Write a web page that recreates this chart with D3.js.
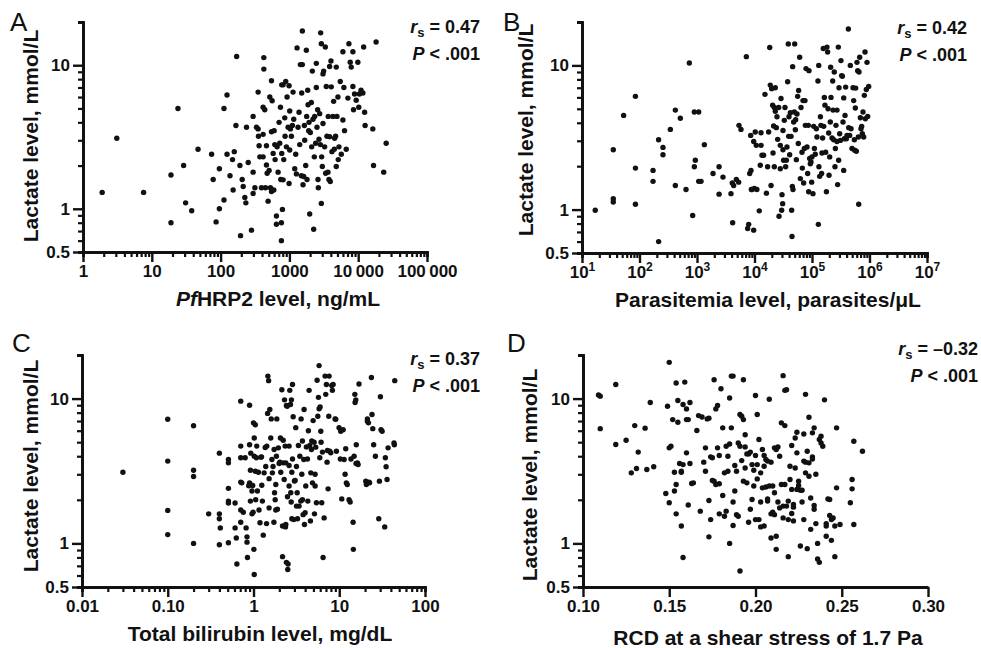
<!DOCTYPE html>
<html>
<head>
<meta charset="utf-8">
<script src="https://cdn.jsdelivr.net/npm/d3@7"></script>
<style>
body { margin: 0; background: #fff; }
svg text { font-family: "Liberation Sans", Arial, Helvetica, sans-serif; fill: #111; }
</style>
</head>
<body>
<svg id="chart" width="981" height="648"></svg>
<script>
// lactate (mmol/L) on every y axis
var lactateDomain = [0.5, 20];
var lactateTicks = [0.5, 1, 10];

var pfhrp2Ticks = [1, 10, 100, 1000, 10000, 100000];
var parasitemiaTicks = [1e1, 1e2, 1e3, 1e4, 1e5, 1e6, 1e7];
var bilirubinTicks = [0.01, 0.1, 1, 10, 100];
var rcdTicks = [0.10, 0.15, 0.20, 0.25, 0.30];

var panelLetters = ['A', 'B', 'C', 'D'];
var rsValues = ['0.47', '0.42', '0.37', '\u20130.32'];
var pValues = ['.001', '.001', '.001', '.001'];

// [PfHRP2 ng/mL, lactate]
var pfhrp2Points = [
  [1.9,1.3],[3.1,3.1],[7.6,1.3],[19,1.72],[19,0.8],[24,5.0],[29,2.0],[31,1.1],[38,0.97],[47,2.6],
  [74,2.4],[78,1.6],[86,0.81],[96,1.0],[96,1.9],[112,1.15],[112,5.0],[124,6.2],[124,2.4],[137,1.7],
  [149,2.2],[152,1.35],[158,2.5],[167,3.8],[171,11.5],[191,2.0],[195,0.65],[206,1.6],[213,1.43],[225,1.2],
  [233,1.1],[238,3.7],[252,2.1],[281,0.71],[297,4.4],[297,1.8],[297,1.28],[315,1.4],[332,3.7],[351,3.6],
  [351,6.5],[355,3.2],[363,2.75],[372,2.3],[393,1.4],[415,3.3],[415,2.3],[415,5.1],[425,11.3],[425,9.4],
  [439,4.9],[449,1.4],[464,2.75],[464,2.02],[475,1.77],[490,1.13],[507,1.85],[519,6.0],[530,1.4],[549,1.32],
  [549,7.8],[549,3.44],[561,5.65],[580,2.43],[593,1.35],[600,3.5],[613,2.8],[620,2.2],[648,0.89],[648,0.78],
  [663,2.7],[685,1.8],[708,4.0],[724,2.86],[741,5.1],[749,1.6],[765,0.8],[765,0.6],[774,7.3],[774,2.43],
  [792,0.99],[810,7.3],[810,1.59],[828,2.2],[856,4.3],[865,3.2],[885,7.7],[905,2.7],[925,6.0],[957,3.7],
  [989,7.2],[989,1.5],[1011,4.8],[1011,2.57],[1034,3.6],[1069,3.2],[1105,3.8],[1130,6.5],[1156,4.2],[1195,1.9],
  [1236,2.4],[1263,1.75],[1292,13.2],[1336,3.7],[1381,4.7],[1413,2.8],[1444,10.1],[1493,1.7],[1510,6.4],[1543,17.3],
  [1543,10.1],[1578,1.47],[1614,1.68],[1650,3.8],[1669,3.0],[1726,2.0],[1763,12.7],[1783,4.4],[1804,1.6],[1845,6.7],
  [1866,5.3],[1907,3.5],[1928,4.0],[1972,0.92],[2015,3.4],[2084,5.5],[2108,2.7],[2154,9.1],[2203,4.2],[2253,0.72],
  [2303,2.3],[2330,4.4],[2408,2.86],[2462,7.0],[2462,10.3],[2518,3.7],[2575,4.9],[2604,1.6],[2633,1.4],[2692,3.05],
  [2753,4.6],[2815,2.8],[2846,16.8],[2911,14.1],[2911,1.09],[2943,2.3],[3009,1.97],[3077,8.7],[3077,3.93],[3146,9.1],
  [3253,2.7],[3327,13.4],[3364,1.77],[3436,7.1],[3514,3.2],[3633,1.8],[3673,4.4],[3756,1.6],[3843,9.8],[3843,3.18],
  [3928,1.55],[4018,10.7],[4060,7.07],[4153,2.5],[4295,4.4],[4394,5.6],[4490,2.6],[4540,3.1],[4692,3.2],[4799,9.7],
  [4799,1.97],[4909,4.4],[5075,6.0],[5130,2.2],[5250,2.7],[5485,7.7],[5675,2.4],[5995,12.4],[5995,4.15],[6195,7.0],
  [6330,3.5],[6700,2.6],[7080,5.9],[7325,14.1],[7660,10.5],[7920,9.7],[8370,7.1],[8370,12.4],[8550,4.9],[8850,6.3],
  [9350,5.7],[9890,10.5],[10200,5.1],[10400,6.3],[11000,6.7],[11700,6.4],[12000,13.4],[12400,4.7],[12600,3.8],[16300,3.6],
  [16700,2.0],[18200,14.5],[23500,1.8],[25500,2.86]
];

// [parasites/uL, lactate]
var parasitemiaPoints = [
  [17,0.99],[35,2.6],[35,1.19],[35,1.13],[53,4.5],[85,6.1],[85,1.94],[85,1.09],[215,3.05],[215,0.6],
  [172,1.87],[172,1.57],[256,2.7],[256,2.4],[344,3.6],[420,4.9],[420,1.47],[513,4.3],[644,1.38],[736,10.4],
  [841,0.91],[899,4.75],[899,1.98],[935,2.2],[1070,4.75],[1070,1.57],[1175,1.57],[1343,2.82],[1900,1.78],[2420,1.98],
  [2420,1.28],[2830,1.68],[3900,1.29],[4110,1.53],[4170,0.81],[4340,1.47],[4830,1.62],[5300,1.55],[5370,3.84],[5820,3.6],
  [7210,11.5],[7600,0.74],[7920,0.79],[8250,1.78],[8580,3.27],[8690,1.87],[8810,1.38],[9050,1.38],[9680,2.97],[9680,0.72],
  [9940,1.4],[10300,3.45],[10750,2.79],[11000,1.38],[12100,0.98],[12600,2.03],[13000,2.79],[13000,3.41],[13500,2.38],[14400,2.38],
  [15200,6.3],[16100,1.3],[16900,1.98],[17600,3.45],[18400,13.3],[18800,7.3],[19400,1.47],[19900,6.9],[20700,5.3],[21000,2.47],
  [21500,3.8],[22100,1.98],[22100,5.1],[23000,4.8],[23000,7.0],[24000,3.7],[24600,4.4],[25300,3.07],[26300,5.1],[26700,0.9],
  [28100,2.79],[28100,1.92],[28900,5.9],[29700,0.99],[30100,1.27],[30900,1.1],[31300,3.54],[31300,2.6],[32100,2.2],[33000,4.16],
  [33900,5.1],[34800,1.98],[35800,2.2],[36700,2.72],[37700,7.7],[38700,14.1],[39300,3.22],[39800,4.4],[40900,2.4],[42000,4.7],
  [43200,3.22],[44300,0.99],[44900,0.65],[45500,1.45],[46100,9.8],[46700,1.38],[48000,4.05],[49300,4.75],[50000,14.1],[51300,3.58],
  [52000,4.2],[53400,2.22],[54800,4.6],[56300,6.1],[57800,2.87],[58600,6.7],[61000,11.4],[62700,1.64],[64400,5.1],[67000,2.5],
  [67900,1.94],[69700,5.7],[71600,1.53],[73600,2.65],[75500,5.7],[76600,3.84],[78700,9.5],[81900,2.72],[84100,1.78],[86300,3.84],
  [87500,1.33],[88700,9.2],[91000,2.26],[93500,2.08],[96100,2.14],[98700,1.55],[100000,2.32],[104000,1.29],[107000,3.78],[110000,2.65],
  [114000,2.42],[119000,3.64],[122000,3.19],[127000,7.8],[129000,0.79],[131000,10],[132000,1.98],[136000,1.7],[140000,4.4],[143000,3.84],
  [147000,1.78],[149000,2.47],[153000,3.14],[157000,13.1],[160000,3.78],[164000,6.0],[168000,5.3],[173000,2.5],[178000,1.33],[182000,13.4],
  [187000,12.4],[190000,5.0],[195000,3.4],[198000,1.73],[203000,2.32],[208000,4.05],[211000,9.7],[214000,6.0],[223000,3.14],[229000,7.8],
  [232000,4.9],[238000,3.05],[244000,9.0],[251000,1.98],[255000,2.65],[261000,3.84],[272000,4.9],[272000,2.97],[279000,1.49],[287000,13.4],
  [291000,2.2],[295000,7.0],[303000,3.36],[311000,3.02],[319000,10.8],[328000,8.5],[337000,8.4],[346000,4.05],[356000,5.95],[356000,1.87],
  [365000,3.1],[375000,4.5],[385000,7.07],[396000,3.1],[406000,3.27],[429000,17.9],[435000,3.7],[452000,3.27],[464000,10],[477000,3.64],
  [496000,2.65],[517000,7.0],[531000,5.7],[545000,3.05],[552000,2.58],[567000,5.06],[575000,6.96],[590000,2.54],[606000,10.5],[623000,9.2],
  [640000,3.19],[649000,1.09],[657000,9.0],[675000,11.4],[693000,4.34],[711000,3.64],[731000,3.78],[750000,3.36],[771000,4.75],[792000,3.19],
  [813000,6.2],[836000,12.4],[847000,4.27],[881000,6.8],[905000,10.5],[930000,4.43],[968000,7.15]
];

// [total bilirubin mg/dL, lactate]
var bilirubinPoints = [
  [0.03,3.1],[0.1,7.2],[0.1,3.7],[0.1,1.69],[0.1,1.15],[0.2,6.5],[0.2,3.2],[0.2,2.9],[0.2,1.0],[0.3,1.6],
  [0.4,4.2],[0.4,1.6],[0.4,1.48],[0.41,1.28],[0.4,0.98],[0.51,3.8],[0.51,3.6],[0.51,2.4],[0.51,1.96],[0.51,1.9],
  [0.51,1.01],[0.61,1.9],[0.61,1.28],[0.63,1.09],[0.64,0.72],[0.71,9.6],[0.71,4.7],[0.71,3.9],[0.71,2.65],[0.71,1.7],
  [0.71,1.4],[0.73,2.62],[0.76,1.64],[0.8,3.9],[0.82,1.28],[0.84,1.11],[0.84,1.02],[0.85,0.8],[0.88,2.5],[0.9,9.0],
  [0.9,4.8],[0.9,2.62],[0.92,3.2],[0.92,1.96],[0.93,4.2],[0.96,2.3],[0.96,1.6],[0.98,2.51],[0.99,1.64],[1.02,5.35],
  [1.02,4.0],[1.0,6.8],[1.01,0.91],[1.02,0.61],[1.05,3.15],[1.05,6.6],[1.06,2.0],[1.08,3.9],[1.09,4.7],[1.11,2.3],
  [1.14,3.1],[1.16,1.7],[1.19,1.39],[1.22,3.94],[1.24,3.96],[1.25,2.52],[1.27,1.96],[1.3,1.14],[1.33,3.07],[1.37,4.6],
  [1.39,3.4],[1.42,1.37],[1.43,4.7],[1.46,7.9],[1.47,14.3],[1.5,13.3],[1.52,2.8],[1.52,1.76],[1.55,8.4],[1.59,5.35],
  [1.61,7.24],[1.64,3.8],[1.66,3.07],[1.69,3.4],[1.73,1.4],[1.74,4.45],[1.76,2.24],[1.79,2.0],[1.82,2.55],[1.82,1.7],
  [1.85,4.0],[1.87,7.24],[1.9,1.72],[1.95,4.57],[1.99,3.56],[2.03,3.64],[2.06,5.35],[2.08,3.1],[2.14,11.5],[2.18,0.81],
  [2.18,1.32],[2.22,3.6],[2.22,5.16],[2.28,2.76],[2.3,9.8],[2.34,4.7],[2.36,1.3],[2.38,3.6],[2.38,1.35],[2.42,0.74],
  [2.42,8.95],[2.47,8.85],[2.49,2.1],[2.51,0.66],[2.53,0.72],[2.6,4.7],[2.6,2.49],[2.6,3.45],[2.65,11.4],[2.7,9.1],
  [2.72,2.24],[2.75,1.93],[2.77,9.8],[2.8,3.1],[2.8,1.48],[2.85,12.5],[2.85,3.83],[2.9,7.5],[2.95,1.46],[3.0,2.7],
  [3.06,2.72],[3.11,6.3],[3.17,3.4],[3.17,1.81],[3.23,2.24],[3.26,1.48],[3.34,4.74],[3.4,1.81],[3.47,4.0],[3.56,1.96],
  [3.59,7.24],[3.66,3.0],[3.72,5.1],[3.72,2.0],[3.79,1.58],[3.86,3.8],[3.89,8.4],[3.93,1.35],[4.0,1.63],[4.07,2.49],
  [4.14,4.64],[4.26,3.83],[4.3,1.96],[4.37,6.0],[4.45,11.4],[4.53,4.74],[4.61,1.43],[4.66,3.07],[4.74,4.45],[4.78,5.1],
  [4.87,2.62],[4.96,7.05],[5.09,5.0],[5.14,1.6],[5.23,3.0],[5.23,2.49],[5.32,4.62],[5.42,1.91],[5.52,13.4],[5.62,7.55],
  [5.72,10.2],[5.82,16.9],[5.82,8.5],[5.93,3.9],[5.98,8.75],[6.09,5.95],[6.14,5.0],[6.25,1.91],[6.37,4.27],[6.48,0.8],
  [6.66,1.5],[6.84,14.3],[6.96,10.7],[7.08,12.5],[7.21,3.64],[7.28,4.38],[7.41,2.38],[7.55,7.55],[7.62,14.3],[7.75,4.33],
  [7.96,4.22],[8.18,12.3],[8.32,11.4],[8.48,12.5],[8.94,7.24],[9.1,7.2],[9.27,4.33],[9.95,6.3],[10.3,3.83],[10.4,5.95],
  [10.7,2.03],[11.1,6.1],[11.4,3.8],[11.7,3.0],[11.9,4.5],[12.1,2.62],[12.4,2.55],[13.0,2.0],[13.4,1.93],[13.7,3.83],
  [14.5,1.4],[14.6,0.91],[14.9,4.0],[15.2,10.7],[15.3,9.4],[15.6,9.8],[15.7,3.56],[15.8,4.8],[16.3,3.6],[16.6,3.5],
  [17.0,12.6],[20.4,2.69],[20.7,2.55],[21.3,7.24],[21.3,6.98],[21.9,6.8],[22.3,2.65],[22.6,2.62],[23.7,14.0],[24.1,7.76],
  [24.6,6.2],[25.2,4.8],[26.4,4.0],[28.9,1.48],[29.4,2.69],[30.2,10.3],[30.7,6.1],[31.6,5.95],[33.9,1.3],[34.5,3.9],
  [35.2,3.38],[36.1,2.76],[37.1,4.57],[43.5,4.94],[43.9,4.8],[44.4,13.3]
];

// [RCD at 1.7 Pa, lactate]
var rcdPoints = [
  [0.109,10.6],[0.110,10.4],[0.110,6.2],[0.119,12.5],[0.119,4.82],[0.125,5.16],[0.130,6.51],[0.132,4.27],[0.128,3.07],[0.131,3.29],
  [0.136,6.25],[0.137,3.24],[0.139,9.4],[0.141,3.38],[0.148,2.21],[0.149,8.85],[0.150,1.91],[0.150,17.8],[0.150,4.57],[0.151,4.69],
  [0.152,7.16],[0.153,3.1],[0.153,2.3],[0.154,2.55],[0.154,12.8],[0.154,1.6],[0.155,9.7],[0.155,6.87],[0.156,3.56],[0.157,3.15],
  [0.157,1.32],[0.157,3.1],[0.158,0.80],[0.158,9.1],[0.158,3.5],[0.159,13.0],[0.160,7.16],[0.160,8.49],[0.160,4.22],[0.161,1.84],
  [0.161,7.16],[0.162,9.4],[0.162,3.56],[0.163,2.59],[0.164,2.62],[0.166,6.02],[0.167,7.63],[0.168,1.67],[0.169,7.47],[0.170,3.64],
  [0.171,4.57],[0.171,3.15],[0.172,7.24],[0.173,7.33],[0.173,1.98],[0.173,1.11],[0.174,1.46],[0.174,3.96],[0.175,3.9],[0.175,2.72],
  [0.176,13.5],[0.176,2.69],[0.177,8.49],[0.177,2.55],[0.178,4.57],[0.178,8.95],[0.179,1.6],[0.179,4.05],[0.179,2.58],[0.180,11.7],
  [0.181,2.14],[0.181,6.28],[0.182,3.07],[0.182,1.54],[0.183,4.69],[0.183,1.67],[0.184,3.15],[0.184,4.0],[0.185,4.86],[0.185,1.0],
  [0.185,10.1],[0.186,6.28],[0.186,14.3],[0.187,14.3],[0.187,1.93],[0.187,1.33],[0.188,3.45],[0.188,2.3],[0.189,3.15],[0.189,1.58],
  [0.190,4.94],[0.190,1.54],[0.191,7.76],[0.191,4.69],[0.191,0.645],[0.192,3.73],[0.192,7.55],[0.193,2.69],[0.193,7.16],[0.193,13.5],
  [0.194,5.63],[0.194,4.64],[0.194,3.32],[0.195,4.15],[0.195,2.62],[0.196,1.4],[0.196,4.15],[0.197,1.72],[0.197,4.27],[0.198,2.01],
  [0.198,3.5],[0.199,3.2],[0.199,2.49],[0.200,4.05],[0.200,10.5],[0.200,1.46],[0.201,7.76],[0.201,3.5],[0.201,2.79],[0.202,5.22],
  [0.202,1.46],[0.203,3.07],[0.203,1.93],[0.203,1.3],[0.204,4.45],[0.204,2.42],[0.205,3.41],[0.205,1.32],[0.205,4.05],[0.206,2.45],
  [0.206,3.8],[0.207,3.7],[0.207,1.96],[0.207,2.03],[0.208,2.49],[0.208,9.9],[0.209,3.64],[0.209,1.6],[0.209,1.09],[0.210,1.64],
  [0.210,2.49],[0.211,2.24],[0.211,1.58],[0.211,4.57],[0.212,1.12],[0.212,4.45],[0.212,0.91],[0.213,4.64],[0.213,1.93],[0.214,1.76],
  [0.214,4.0],[0.215,6.8],[0.215,2.55],[0.216,1.5],[0.216,1.81],[0.216,14.4],[0.217,6.51],[0.217,2.55],[0.217,11.4],[0.218,1.81],
  [0.218,11.5],[0.219,0.81],[0.219,1.96],[0.219,1.46],[0.220,3.41],[0.220,2.76],[0.221,1.61],[0.221,4.74],[0.221,2.36],[0.222,1.86],
  [0.222,1.78],[0.222,1.43],[0.223,5.35],[0.223,3.32],[0.224,2.36],[0.224,5.86],[0.224,4.22],[0.225,2.51],[0.225,2.69],[0.226,2.33],
  [0.226,0.96],[0.227,1.93],[0.227,2.33],[0.228,5.7],[0.228,3.7],[0.228,1.46],[0.229,10.7],[0.229,3.64],[0.229,3.07],[0.230,0.92],
  [0.230,4.33],[0.231,3.6],[0.231,7.43],[0.231,2.91],[0.232,2.06],[0.232,1.25],[0.233,3.96],[0.233,3.83],[0.233,5.8],[0.234,1.83],
  [0.234,1.72],[0.234,6.28],[0.235,1.37],[0.235,3.0],[0.236,1.0],[0.236,0.78],[0.237,0.74],[0.237,5.22],[0.238,5.5],[0.238,4.94],
  [0.239,4.69],[0.240,9.8],[0.241,1.37],[0.241,1.32],[0.241,1.12],[0.242,2.03],[0.243,1.56],[0.243,2.01],[0.244,1.05],[0.244,1.46],
  [0.245,1.5],[0.246,1.32],[0.246,0.81],[0.247,2.42],[0.247,6.28],[0.249,1.35],[0.255,1.91],[0.256,2.76],[0.256,2.38],[0.257,5.08],
  [0.257,1.35],[0.262,4.33]
];

var font = '"Liberation Sans", Arial, Helvetica, sans-serif';
var svg = d3.select('#chart');

function plainFormat(d) { return String(d); }

var panels = [
    {
        points: pfhrp2Points, xLog: true, xDomain: [1, 1e5], xTicks: pfhrp2Ticks,
        xFormat: function(d) { return d >= 10000 ? d3.format(',')(d).replace(',', '\u2009') : String(d); },
        box: {left: 83, right: 427, top: 22, bottom: 252},
        letterAt: [10, 31], statAt: [480, 33], yTitleAt: [38, 136], xTitleAt: [278, 306],
        xTitle: [{text: 'Pf', italic: true}, {text: 'HRP2 level, ng/mL'}]
    },
    {
        points: parasitemiaPoints, xLog: true, xDomain: [10, 1e7], xTicks: parasitemiaTicks,
        xFormat: null,
        box: {left: 582, right: 927, top: 22, bottom: 253},
        letterAt: [503, 31], statAt: [967, 34], yTitleAt: [533, 130], xTitleAt: [768, 307],
        xTitle: [{text: 'Parasitemia level, parasites/\u03bcL'}]
    },
    {
        points: bilirubinPoints, xLog: true, xDomain: [0.01, 100], xTicks: bilirubinTicks,
        xFormat: function(d) { return d < 1 ? d3.format('.2f')(d) : String(d); },
        box: {left: 82, right: 425, top: 355, bottom: 587},
        letterAt: [12, 352], statAt: [480, 365], yTitleAt: [38, 466], xTitleAt: [260, 641],
        xTitle: [{text: 'Total bilirubin level, mg/dL'}]
    },
    {
        points: rcdPoints, xLog: false, xDomain: [0.10, 0.30], xTicks: rcdTicks,
        xFormat: d3.format('.2f'),
        box: {left: 583, right: 928, top: 355, bottom: 587},
        letterAt: [507, 352], statAt: [978, 355], yTitleAt: [537, 475], xTitleAt: [768, 645],
        xTitle: [{text: 'RCD at a shear stress of 1.7 Pa'}]
    }
];

function styleAxis(g, width) {
    g.select('.domain').attr('stroke', '#111').attr('stroke-width', 2.8);
    g.selectAll('.tick line').attr('stroke', '#111').attr('stroke-width', width);
    g.selectAll('.tick text')
        .attr('font-family', font)
        .attr('font-weight', 'bold')
        .attr('font-size', 17)
        .attr('fill', '#111');
}

panels.forEach(function(p, i) {
    var b = p.box;
    var x = (p.xLog ? d3.scaleLog() : d3.scaleLinear()).domain(p.xDomain).range([b.left, b.right]);
    var y = d3.scaleLog().domain(lactateDomain).range([b.bottom, b.top]);
    var g = svg.append('g').attr('class', 'panel-' + panelLetters[i]);

    // minor ticks first, the major axis draws over them
    var yMinor = y.ticks().filter(function(t) { return lactateTicks.indexOf(t) < 0; });
    g.append('g')
        .attr('transform', 'translate(' + b.left + ',0)')
        .call(d3.axisLeft(y).tickValues(yMinor).tickSize(5).tickFormat(''))
        .call(styleAxis, 2.2);

    g.append('g')
        .attr('transform', 'translate(' + b.left + ',0)')
        .call(d3.axisLeft(y).tickValues(lactateTicks).tickSize(10).tickSizeOuter(0)
                .tickPadding(3).tickFormat(plainFormat))
        .call(styleAxis, 2.4);

    if (p.xLog) {
        var xMinor = x.ticks().filter(function(t) { return p.xTicks.indexOf(t) < 0; });
        g.append('g')
            .attr('transform', 'translate(0,' + b.bottom + ')')
            .call(d3.axisBottom(x).tickValues(xMinor).tickSize(5).tickFormat(''))
            .call(styleAxis, 2.2);
    }

    var xAxis = g.append('g')
        .attr('transform', 'translate(0,' + b.bottom + ')')
        .call(d3.axisBottom(x).tickValues(p.xTicks).tickSize(10).tickSizeOuter(0)
                .tickPadding(3).tickFormat(p.xFormat || ''))
        .call(styleAxis, 2.4);

    if (!p.xFormat) {
        // powers of ten with a raised exponent
        xAxis.selectAll('.tick text').each(function(d) {
            var t = d3.select(this).text('');
            t.append('tspan').text('10');
            t.append('tspan').attr('font-size', 12).attr('dy', -7).text(Math.round(Math.log10(d)));
        });
    }

    g.append('g')
        .selectAll('circle')
        .data(p.points)
        .join('circle')
            .attr('cx', function(d) { return x(d[0]); })
            .attr('cy', function(d) { return y(d[1]); })
            .attr('r', 2.7)
            .attr('fill', '#111');

    g.append('text')
        .attr('x', p.letterAt[0]).attr('y', p.letterAt[1])
        .attr('font-size', 26)
        .text(panelLetters[i]);

    var stat = g.append('text')
        .attr('x', p.statAt[0]).attr('y', p.statAt[1])
        .attr('text-anchor', 'end')
        .attr('font-weight', 'bold')
        .attr('font-size', 18);
    stat.append('tspan').attr('font-style', 'italic').text('r');
    stat.append('tspan').attr('font-size', 13).attr('dy', 4).text('s');
    stat.append('tspan').attr('dy', -4).text(' = ' + rsValues[i]);

    var pv = g.append('text')
        .attr('x', p.statAt[0]).attr('y', p.statAt[1] + 27)
        .attr('text-anchor', 'end')
        .attr('font-weight', 'bold')
        .attr('font-size', 18);
    pv.append('tspan').attr('font-style', 'italic').text('P');
    pv.append('tspan').text(' < ' + pValues[i]);

    g.append('text')
        .attr('transform', 'translate(' + p.yTitleAt[0] + ',' + p.yTitleAt[1] + ') rotate(-90)')
        .attr('text-anchor', 'middle')
        .attr('font-weight', 'bold')
        .attr('font-size', 21)
        .text('Lactate level, mmol/L');

    var xt = g.append('text')
        .attr('x', p.xTitleAt[0]).attr('y', p.xTitleAt[1])
        .attr('text-anchor', 'middle')
        .attr('font-weight', 'bold')
        .attr('font-size', 21);
    p.xTitle.forEach(function(part) {
        xt.append('tspan').attr('font-style', part.italic ? 'italic' : null).text(part.text);
    });
});
</script>
</body>
</html>
